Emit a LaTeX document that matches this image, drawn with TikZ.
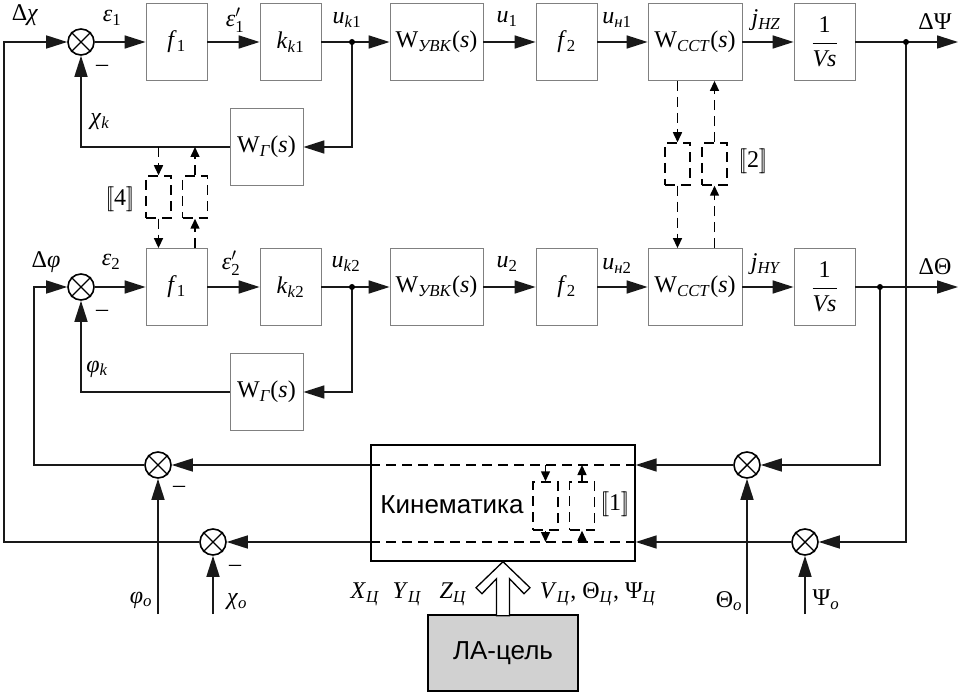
\documentclass[tikz,border=0pt]{standalone}
\usepackage{amsmath}
\usepackage{fontspec}
\setmainfont{Liberation Serif}
\setsansfont{Liberation Sans}
\usetikzlibrary{arrows.meta,calc}
\newcommand{\tx}[1]{\text{\itshape #1}}
\newcommand{\dbr}[1]{$[\![\text{#1}]\!]$}
\newcommand{\sbt}[1]{\textsubscript{#1}}
\begin{document}
\begin{tikzpicture}[x=1pt,y=-1pt,
  every node/.style={font=\fontsize{24}{28}\selectfont},
  blk/.style={draw=black!50,line width=0.8pt,minimum height=77pt,inner sep=0pt},
  sumc/.style={circle,draw,line width=1.6pt,minimum size=26pt,inner sep=0pt},
  ln/.style={line width=1.6pt,black!90},
  arr/.style={ln,-{Triangle[length=21pt,width=13pt]}},
  dsh/.style={line width=1.5pt,dash pattern=on 10pt off 6pt},
  darr/.style={dsh,-{Triangle[length=10pt,width=9pt]}},
  dbox/.style={draw,dsh,minimum width=25pt,minimum height=42pt,inner sep=0pt},
  jdot/.style={circle,fill,inner sep=0pt,minimum size=6pt},
  lab/.style={inner sep=0pt},
  sfl/.style={font=\sffamily\fontsize{26}{30}\selectfont}]
\fill[white] (0,0) rectangle (966,692);
\useasboundingbox (0,0) rectangle (966,692);
% ---------- row 1
\node[sumc] (s1) at (81,42) {};
\node[blk,minimum width=61pt] (fa) at (176.5,42) {\textit{f}\sbt{1}};
\node[blk,minimum width=61pt] (ka) at (290.5,42) {\textit{k}\sbt{\textit{k}1}};
\node[blk,minimum width=93pt] (wua) at (436.5,42) {W\sbt{\textit{УВК}}(\textit{s})};
\node[blk,minimum width=61pt] (f2a) at (566.5,42) {\textit{f}\sbt{2}};
\node[blk,minimum width=94pt] (wca) at (695,42) {W\sbt{\textit{ССТ}}(\textit{s})};
\node[blk,minimum width=61pt] (vsa) at (824.5,42) {$\dfrac{\text{1}}{\tx{Vs}}$};
\node[blk,minimum width=73pt] (wga) at (266.5,147) {W\sbt{\textit{Г}}(\textit{s})};
\coordinate (ja) at (352,42);
\coordinate (jpa) at (906,42);
\coordinate (outa) at (958,42);
% ---------- row 2
\node[sumc] (s2) at (81,287) {};
\node[blk,minimum width=61pt] (fb) at (176.5,287) {\textit{f}\sbt{1}};
\node[blk,minimum width=61pt] (kb) at (290.5,287) {\textit{k}\sbt{\textit{k}2}};
\node[blk,minimum width=93pt] (wub) at (436.5,287) {W\sbt{\textit{УВК}}(\textit{s})};
\node[blk,minimum width=61pt] (f2b) at (566.5,287) {\textit{f}\sbt{2}};
\node[blk,minimum width=94pt] (wcb) at (695,287) {W\sbt{\textit{ССТ}}(\textit{s})};
\node[blk,minimum width=61pt] (vsb) at (824.5,287) {$\dfrac{\text{1}}{\tx{Vs}}$};
\node[blk,minimum width=73pt] (wgb) at (266.5,392) {W\sbt{\textit{Г}}(\textit{s})};
\coordinate (jb) at (352,287);
\coordinate (jtb) at (880,287);
\coordinate (outb) at (958,287);
% ---------- bottom
\node[sumc] (c1) at (158,465) {};
\node[sumc] (c2) at (213,542) {};
\node[sumc] (cT) at (747,465) {};
\node[sumc] (cP) at (805,542) {};
\node[draw,line width=1.4pt,minimum width=264pt,minimum height=116pt,inner sep=0pt] (kin) at (503,503) {};
\node[lab,sfl] (kt) at (452,505) {Кинематика};
\node[draw,line width=1.1pt,fill=black!18,minimum width=150pt,minimum height=76pt,inner sep=0pt,sfl] (la) at (503,653) {ЛА-цель};
\coordinate (La) at (4,42);
\coordinate (Lb) at (34,287);
\coordinate (ic1) at (158,614);
\coordinate (ic2) at (213,614);
\coordinate (icT) at (747,614);
\coordinate (icP) at (805,614);
% ---------- crosses in summing junctions
\foreach \s in {s1,s2,c1,c2,cT,cP}
  \draw[line width=1.4pt] (\s.north west) -- (\s.south east) (\s.north east) -- (\s.south west);
% ---------- connectors row 1
\draw[arr] (s1) -- (fa);
\draw[arr] (fa) -- (ka);
\draw[arr] (ka) -- (wua);
\draw[arr] (wua) -- (f2a);
\draw[arr] (f2a) -- (wca);
\draw[arr] (wca) -- (vsa);
\draw[arr] (vsa) -- (outa);
\draw[arr] (ja) |- (wga);
\draw[arr] (wga) -| (s1);
% ---------- connectors row 2
\draw[arr] (s2) -- (fb);
\draw[arr] (fb) -- (kb);
\draw[arr] (kb) -- (wub);
\draw[arr] (wub) -- (f2b);
\draw[arr] (f2b) -- (wcb);
\draw[arr] (wcb) -- (vsb);
\draw[arr] (vsb) -- (outb);
\draw[arr] (jb) |- (wgb);
\draw[arr] (wgb) -| (s2);
% ---------- outer loops
\draw[arr] (c2) -| (La) -- (s1);
\draw[arr] (c1) -| (Lb) -- (s2);
\draw[arr] (jpa) |- (cP);
\draw[arr] (jtb) |- (cT);
\draw[arr] (cT) -- (cT -| kin.east);
\draw[dsh] (cT -| kin.east) -- (cT -| kin.west);
\draw[arr] (cT -| kin.west) -- (c1);
\draw[arr] (cP) -- (cP -| kin.east);
\draw[dsh] (cP -| kin.east) -- (cP -| kin.west);
\draw[arr] (cP -| kin.west) -- (c2);
\draw[arr] (ic1) -- (c1);
\draw[arr] (ic2) -- (c2);
\draw[arr] (icT) -- (cT);
\draw[arr] (icP) -- (cP);
% ---------- junction dots
\foreach \j in {ja,jb,jpa,jtb} \node[jdot] at (\j) {};
% ---------- coupling [4]
\node[dbox] (d4a) at (158.5,197) {};
\node[dbox] (d4b) at (195,197) {};
\draw[darr] (d4a |- wga) -- (d4a.north);
\draw[darr] (d4a.south) -- (d4a |- fb.north);
\draw[darr] (d4b |- fb.north) -- (d4b.south);
\draw[darr] (d4b.north) -- (d4b |- wga);
% ---------- coupling [2]
\node[dbox] (d2a) at (677.5,164) {};
\node[dbox] (d2b) at (714.5,164) {};
\draw[darr] (d2a |- wca.south) -- (d2a.north);
\draw[darr] (d2a.south) -- (d2a |- wcb.north);
\draw[darr] (d2b |- wcb.north) -- (d2b.south);
\draw[darr] (d2b.north) -- (d2b |- wca.south);
% ---------- coupling [1]
\node[dbox,minimum height=48pt] (d1a) at (545.5,506) {};
\node[dbox,minimum height=48pt] (d1b) at (582,506) {};
\draw[darr] (d1a |- cT) -- (d1a.north);
\draw[darr] (d1a.south) -- (d1a |- cP);
\draw[darr] (d1b |- cP) -- (d1b.south);
\draw[darr] (d1b.north) -- (d1b |- cT);
% ---------- hollow arrow
\draw[line width=1.3pt,fill=white] (kin.south) -- ++(-27,26) -- ++(6,6) -- ++(14.5,-15) -- ++(0,37) -- ++(13,0) -- ++(0,-37) -- ++(14.5,15) -- ++(6,-6) -- cycle;
% ---------- labels
\node[lab] (l1) at (25,15) {Δ\textit{χ}};
\node[lab] (l2) at (112,18) {\textit{ε}\sbt{1}};
\node[lab] (l3) at (235,20) {$\tx{ε}'_{\text{1}}$};
\node[lab] (l4) at (347,20) {\textit{u}\sbt{\textit{k}1}};
\node[lab] (l5) at (507,19) {\textit{u}\sbt{1}};
\node[lab] (l6) at (617,20) {\textit{u}\sbt{\textit{н}1}};
\node[lab] (l7) at (766,20) {\textit{j}\sbt{\textit{HZ}}};
\node[lab] (l8) at (935,22) {ΔΨ};
\node[lab] (m1) at (102,68) {–};
\node[lab] (l9) at (100,122) {\textit{χ}\sbt{\textit{k}}};
\node[lab] (l10) at (46,262) {Δ\textit{φ}};
\node[lab] (l11) at (111,262) {\textit{ε}\sbt{2}};
\node[lab] (l12) at (231,263) {$\tx{ε}'_{\text{2}}$};
\node[lab] (l13) at (346,264) {\textit{u}\sbt{\textit{k}2}};
\node[lab] (l14) at (507,264) {\textit{u}\sbt{2}};
\node[lab] (l15) at (617,266) {\textit{u}\sbt{\textit{н}2}};
\node[lab] (l16) at (766,264) {\textit{j}\sbt{\textit{HY}}};
\node[lab] (l17) at (935,267) {ΔΘ};
\node[lab] (m2) at (102,313) {–};
\node[lab] (l18) at (97,369) {\textit{φ}\sbt{\textit{k}}};
\node[lab] (l19) at (120,199) {\dbr{4}};
\node[lab] (l20) at (753,161) {\dbr{2}};
\node[lab] (l21) at (615,504) {\dbr{1}};
\node[lab] (m3) at (179,489) {–};
\node[lab] (m4) at (235,568) {–};
\node[lab] (l22) at (141,600) {\textit{φ}\sbt{\textit{o}}};
\node[lab] (l23) at (237,602) {\textit{χ}\sbt{\textit{o}}};
\node[lab] (l24) at (729,601) {Θ\sbt{\textit{o}}};
\node[lab] (l25) at (826,600) {Ψ\sbt{\textit{o}}};
\node[lab] (l26) at (365,594) {\textit{X}\sbt{\textit{Ц}}};
\node[lab] (l27) at (407,594) {\textit{Y}\sbt{\textit{Ц}}};
\node[lab] (l28) at (453,594) {\textit{Z}\sbt{\textit{Ц}}};
\node[lab] (l29) at (598,594) {\textit{V}\sbt{\textit{Ц}}, Θ\sbt{\textit{Ц}}, Ψ\sbt{\textit{Ц}}};
\end{tikzpicture}
\end{document}
